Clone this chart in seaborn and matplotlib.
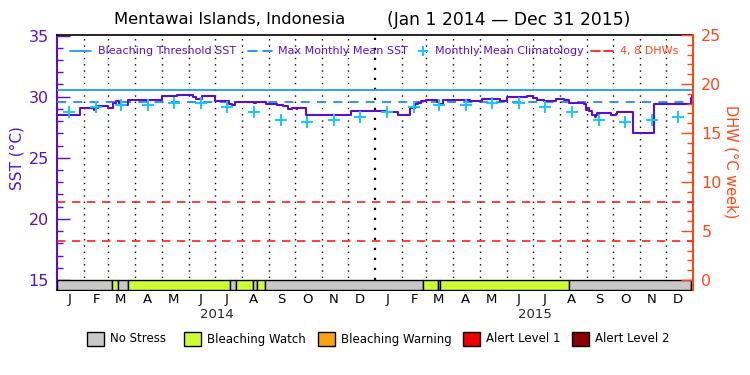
import numpy as np
import pandas as pd
import matplotlib
matplotlib.use("Agg")
import matplotlib.pyplot as plt
import matplotlib.dates as mdates
from matplotlib.lines import Line2D
from matplotlib.patches import Rectangle
import seaborn as sns

# ---------------- data ----------------
title_left = "Mentawai Islands, Indonesia"
title_right = "(Jan 1 2014 \u2014 Dec 31 2015)"

sst_dates = ["2014-01-01", "2014-01-27", "2014-02-12", "2014-02-15", "2014-02-17", "2014-02-28",
             "2014-03-06", "2014-03-10", "2014-03-13", "2014-03-15", "2014-03-24", "2014-05-01",
             "2014-05-19", "2014-06-06", "2014-06-10", "2014-06-17", "2014-07-01", "2014-07-17",
             "2014-07-21", "2014-07-24", "2014-08-15", "2014-08-17", "2014-08-29", "2014-09-10",
             "2014-09-17", "2014-09-23", "2014-09-28", "2014-10-03", "2014-10-04", "2014-10-14",
             "2014-12-05", "2015-01-14", "2015-01-27", "2015-02-10", "2015-02-16", "2015-02-19",
             "2015-02-23", "2015-03-01", "2015-03-13", "2015-03-16", "2015-03-20", "2015-04-20",
             "2015-05-04", "2015-05-24", "2015-06-02", "2015-06-24", "2015-07-01", "2015-07-06",
             "2015-07-14", "2015-07-28", "2015-08-06", "2015-08-12", "2015-08-29", "2015-08-31",
             "2015-09-01", "2015-09-04", "2015-09-07", "2015-09-10", "2015-09-12", "2015-09-13",
             "2015-09-29", "2015-10-05", "2015-10-06", "2015-10-24", "2015-11-17", "2015-12-30",
             "2015-12-31", "2016-01-01"]
sst_values = [28.53, 29.08, 28.95, 29.08, 29.21, 29.08,
              29.49, 29.62, 29.40, 29.29, 29.76, 30.05,
              30.16, 30.00, 29.85, 30.02, 29.62, 29.40,
              29.34, 29.56, 29.45, 29.56, 29.40, 29.29,
              29.21, 29.00, 29.08, 29.00, 29.08, 28.53,
              28.86, 28.75, 28.53, 29.10, 29.40, 29.49,
              29.67, 29.76, 29.60, 29.40, 29.76, 29.67,
              29.81, 29.67, 29.94, 30.02, 29.90, 29.76,
              29.67, 29.84, 29.70, 29.49, 29.40, 28.94,
              29.10, 28.86, 28.53, 28.34, 28.50, 28.67,
              28.50, 28.60, 28.75, 27.04, 29.43, 29.90,
              30.10, 30.10]

clim_years = [2014, 2015]
clim_values = [28.78, 29.17, 29.33, 29.32, 29.49, 29.49, 29.13, 28.75, 28.12, 27.94, 28.12, 28.34]

mmm_sst = 29.53
threshold_sst = 30.53
dhw_levels = [4, 8]

stress_starts = ["2014-01-01", "2014-03-05", "2014-03-12", "2014-03-24", "2014-07-18", "2014-07-25",
                 "2014-08-14", "2014-08-19", "2014-08-28", "2015-02-25", "2015-03-14", "2015-03-17",
                 "2015-08-12", "2015-12-30"]
stress_levels = ["No Stress", "Bleaching Watch", "No Stress", "Bleaching Watch", "No Stress",
                 "Bleaching Watch", "No Stress", "Bleaching Watch", "No Stress", "Bleaching Watch",
                 "No Stress", "Bleaching Watch", "No Stress", "Bleaching Watch"]
stress_end = "2016-01-01"

stress_names = ["No Stress", "Bleaching Watch", "Bleaching Warning", "Alert Level 1", "Alert Level 2"]
stress_colors = ["#C8C8C8", "#CCFF33", "#FAA50F", "#F00000", "#8C0000"]

month_letters = ["J", "F", "M", "A", "M", "J", "J", "A", "S", "O", "N", "D"]
year_labels = ["2014", "2015"]
legend_labels = ["Bleaching Threshold SST", "Max Monthly Mean SST", "Monthly Mean Climatology", "4, 8 DHWs"]

# ---------------- style ----------------
sns.set_theme(style="white")
plt.rcParams["font.family"] = ["DejaVu Sans"]

PURPLE = "#5A0FC8"
THR_BLUE = "#1E9BF0"
MMM_BLUE = "#1E8CF0"
CLIM_CYAN = "#14C8FF"
DHW_RED = "#FF1E1E"
ORANGE = "#FF4614"

W, H = 750, 375
fig = plt.figure(figsize=(7.5, 3.75), dpi=100)
fig.patch.set_facecolor("white")

def fx(px):
    return px / W

def fy(py):
    return 1 - py / H

ax = fig.add_axes([fx(57), fy(290), fx(693) - fx(57), fy(35) - fy(290)])
ax.set_facecolor("white")

x0 = pd.Timestamp("2014-01-01")
x1 = pd.Timestamp("2016-01-01")

# SST series
sst_df = pd.DataFrame({"date": pd.to_datetime(sst_dates), "sst": sst_values})
sns.lineplot(data=sst_df, x="date", y="sst", ax=ax, color=PURPLE, lw=1.5,
             drawstyle="steps-post", errorbar=None, zorder=5)

# climatology
clim_dates = [pd.Timestamp(year=y, month=m + 1, day=15) for y in clim_years for m in range(12)]
clim_df = pd.DataFrame({"date": clim_dates, "clim": clim_values * len(clim_years)})
sns.scatterplot(data=clim_df, x="date", y="clim", ax=ax, marker="+", s=70,
                color=CLIM_CYAN, linewidth=1.4, zorder=6)

# threshold and MMM
ax.axhline(threshold_sst, color=THR_BLUE, lw=1.3, zorder=4)
ax.axhline(mmm_sst, color=MMM_BLUE, lw=1.3, ls=(0, (5, 4)), zorder=4)

# month dotted lines
for d in pd.date_range("2014-02-01", "2015-12-01", freq="MS"):
    lw = 1.6 if (d.month == 1) else 1.0
    ax.axvline(d, color="black", lw=lw, ls=(0, (1, 3.5)), zorder=1)

# stress bar
ymin_sst = 15 - 10 / 12.26
starts = pd.to_datetime(stress_starts)
ends = list(starts[1:]) + [pd.Timestamp(stress_end)]
for s, e, lev in zip(starts, ends, stress_levels):
    c = stress_colors[stress_names.index(lev)]
    ax.broken_barh([(mdates.date2num(s), mdates.date2num(e) - mdates.date2num(s))],
                   (ymin_sst, 15 - ymin_sst), facecolors=c, edgecolor="black",
                   linewidth=1.0, zorder=3)

ax.set_xlim(x0, x1)
ax.set_ylim(ymin_sst, 35.05)
ax.set_xlabel("")
ax.set_ylabel("")

# x ticks: month letters at mid-month
mid = [pd.Timestamp(year=y, month=m, day=15) for y in clim_years for m in range(1, 13)]
ax.set_xticks(mid)
ax.set_xticklabels(month_letters * len(clim_years), fontsize=9.5, color="black")
ax.tick_params(axis="x", length=0, pad=2)

# left y axis
ax.set_yticks([15, 20, 25, 30, 35])
ax.set_yticks(np.arange(15, 36, 1), minor=True)
ax.tick_params(axis="y", which="major", direction="in", length=9, width=1.0, color=PURPLE,
               labelcolor=PURPLE, labelsize=11.5, pad=6, left=True)
ax.tick_params(axis="y", which="minor", direction="in", length=4.5, width=1.0, color=PURPLE, left=True)
for sp in ["top", "bottom"]:
    ax.spines[sp].set_color("black")
    ax.spines[sp].set_linewidth(1.2)
ax.spines["left"].set_color(PURPLE)
ax.spines["left"].set_linewidth(1.5)
ax.spines["right"].set_visible(False)

# right axis (DHW)
ax2 = ax.twinx()
ax2.set_ylim(-10 / 9.8, 25)
for lvl in dhw_levels:
    ax2.axhline(lvl, color=DHW_RED, lw=1.2, ls=(0, (5, 4)), zorder=4)
ax2.set_yticks([0, 5, 10, 15, 20, 25])
ax2.set_yticks(np.arange(0, 26, 1), minor=True)
ax2.tick_params(axis="y", which="major", direction="in", length=9, width=1.0, color=ORANGE,
                labelcolor=ORANGE, labelsize=11.5, pad=6, right=True)
ax2.tick_params(axis="y", which="minor", direction="in", length=4.5, width=1.0, color=ORANGE, right=True)
ax2.spines["right"].set_color(ORANGE)
ax2.spines["right"].set_linewidth(1.5)
for sp in ["top", "bottom", "left"]:
    ax2.spines[sp].set_visible(False)
ax2.grid(False)
ax.grid(False)

# axis titles
fig.text(fx(17), fy(158), "SST (\u00b0C)", rotation=90, ha="center", va="center",
         color=PURPLE, fontsize=11)
fig.text(fx(731), fy(162), "DHW (\u00b0C week)", rotation=270, ha="center", va="center",
         color=ORANGE, fontsize=10.5)

# title
fig.text(fx(114), fy(20), title_left, ha="left", va="center", fontsize=11.8, color="black")
fig.text(fx(387), fy(20), title_right, ha="left", va="center", fontsize=12.3, color="black")

# year labels
fig.text(fx(217), fy(314), year_labels[0], ha="center", va="center", fontsize=9.5)
fig.text(fx(535), fy(314), year_labels[1], ha="center", va="center", fontsize=9.5)

# top legend (manual)
ly = fy(51)
LS = 8.0
fig.add_artist(Line2D([fx(70), fx(91)], [ly, ly], color=THR_BLUE, lw=1.3))
fig.text(fx(98), ly, legend_labels[0], ha="left", va="center", fontsize=LS, color=PURPLE)
fig.add_artist(Line2D([fx(248), fx(257)], [ly, ly], color=MMM_BLUE, lw=1.3))
fig.add_artist(Line2D([fx(263), fx(272)], [ly, ly], color=MMM_BLUE, lw=1.3))
fig.text(fx(278), ly, legend_labels[1], ha="left", va="center", fontsize=LS, color=PURPLE)
fig.add_artist(Line2D([fx(423)], [ly], color=CLIM_CYAN, marker="+", ms=7, mew=1.4, ls="none"))
fig.text(fx(435), ly, legend_labels[2], ha="left", va="center", fontsize=LS, color=PURPLE)
fig.add_artist(Line2D([fx(591), fx(600)], [ly, ly], color=DHW_RED, lw=1.3))
fig.add_artist(Line2D([fx(604), fx(613)], [ly, ly], color=DHW_RED, lw=1.3))
fig.text(fx(620), ly, legend_labels[3], ha="left", va="center", fontsize=LS, color=ORANGE)

# bottom legend (stress levels)
box_x = [87, 184, 318, 463, 572]
for bx, name, col in zip(box_x, stress_names, stress_colors):
    fig.add_artist(Rectangle((fx(bx), fy(346)), fx(17), 14 / H, facecolor=col,
                             edgecolor="black", lw=1.0, transform=fig.transFigure))
    fig.text(fx(bx + 23), fy(339), name, ha="left", va="center", fontsize=8.5, color="black")

fig.savefig("out.png", dpi=100, facecolor="white")
